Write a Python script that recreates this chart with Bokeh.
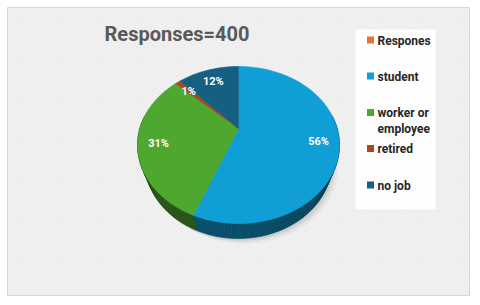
import numpy as np
from bokeh.plotting import figure
from bokeh.models import Range1d, BoxAnnotation
from bokeh.core.properties import value
from bokeh.embed import file_html
from bokeh.resources import INLINE

# ---------------- data ----------------
title_text = "Responses=400"
categories = ["student", "worker or employee", "retired", "no job"]
shares = [56, 31, 1, 12]
slice_labels = ["56%", "31%", "1%", "12%"]
slice_colors = ["#0F9ED5", "#4EA72E", "#A8491B", "#156082"]
legend_names = ["Respones", "student", "worker or", "retired", "no job"]
legend_second_line = ["", "", "employee", "", ""]
legend_colors = ["#E97132", "#0F9ED5", "#4EA72E", "#A8491B", "#156082"]

# ---------------- layout / style ----------------
W, H = 478, 303
FONT = "Roboto"
X0, X1, Y0, Y1 = 7, 469, 7, 295          # frame in window pixels
CX, CY = 238, 128                         # pie centre (window px)
K, D, TILT, DEPTH = 305.0, 3.09, np.radians(49.5), 0.32
LABEL_R = 0.8

def proj(theta, r=1.0, h=0.0):
    X = r * np.sin(theta)
    Z = r * np.cos(theta)
    c, s = np.cos(TILT), np.sin(TILT)
    yc = Z * s - h * c
    d = D + Z * c + h * s
    return CX + K * X / d, CY - K * yc / d

def shade(hex_color, f):
    h = hex_color.lstrip("#")
    rgb = [int(h[i:i + 2], 16) for i in (0, 2, 4)]
    return "#%02x%02x%02x" % tuple(int(max(0, min(255, v * f))) for v in rgb)

total = float(sum(shares))
bounds = np.concatenate([[0.0], np.cumsum(shares) / total * 2 * np.pi])

p = figure(width=W, height=H, output_backend="svg", toolbar_location=None,
           x_range=Range1d(X0, X1), y_range=Range1d(Y1, Y0),
           min_border_left=X0, min_border_top=Y0,
           min_border_right=W - X1, min_border_bottom=H - Y1,
           background_fill_color="#f5f5f5", border_fill_color="#ffffff")
p.axis.visible = False
p.grid.visible = False
p.outline_line_color = "#d6d6d6"
p.outline_line_width = 1

# hatched background
p.add_layout(BoxAnnotation(left=X0, right=X1, top=Y0, bottom=Y1,
                           fill_alpha=0, line_color=None,
                           hatch_pattern="/", hatch_color="#e6e6e6",
                           hatch_scale=5, hatch_weight=1, level="underlay"))

# soft shadow
full = np.linspace(0, 2 * np.pi, 200)
bx, by = proj(full, 1.0, DEPTH)
for dx, dy, a in [(6, 5, 0.04), (4, 3, 0.05), (2, 2, 0.06)]:
    p.patch(bx + dx, by + dy, fill_color="#000000", fill_alpha=a, line_color=None)

# side wall (front half), far pieces first
steps = np.linspace(np.radians(80), np.radians(280), 121)
quads = []
for a0, a1 in zip(steps[:-1], steps[1:]):
    mid = 0.5 * (a0 + a1)
    idx = int(np.searchsorted(bounds, mid, side="right") - 1)
    idx = min(max(idx, 0), len(shares) - 1)
    f = 0.38 + 0.12 * np.cos(mid - np.radians(205))
    xa, ya = proj(np.array([a0, a1, a1, a0]), 1.0, np.array([0, 0, DEPTH, DEPTH]))
    quads.append((abs(mid - np.pi), list(xa), list(ya), shade(slice_colors[idx], f)))
quads.sort(key=lambda q: -q[0])
p.patches([q[1] for q in quads], [q[2] for q in quads],
          fill_color=[q[3] for q in quads], line_color=[q[3] for q in quads],
          line_width=0.6)

# top face
xs, ys = [], []
for i in range(len(shares)):
    n = max(4, int(120 * shares[i] / total))
    t = np.linspace(bounds[i], bounds[i + 1], n)
    ax, ay = proj(t)
    xs.append([CX] + list(ax))
    ys.append([CY] + list(ay))
p.patches(xs, ys, fill_color=slice_colors, line_color=slice_colors, line_width=0.6)

# slice labels
mids = 0.5 * (bounds[:-1] + bounds[1:])
lx, ly = proj(mids, LABEL_R)
p.text(x=list(lx), y=list(ly + 1), text=slice_labels, text_color="white",
       text_font=value(FONT), text_font_style="bold", text_font_size="11px",
       text_align="center", text_baseline="middle")

# title
p.text(x=[176.5], y=[33], text=[title_text], text_color="#595959",
       text_font=value(FONT), text_font_style="bold", text_font_size="20px",
       text_align="center", text_baseline="middle")

# legend
p.quad(left=[355], right=[435], top=[29], bottom=[209],
       fill_color="white", fill_alpha=0.9, line_color=None)
leg_y = [39.5, 75.5, 112, 148, 184.5]
p.rect(x=[370] * len(leg_y), y=leg_y, width=7, height=7,
       fill_color=legend_colors, line_color=None)
p.text(x=[377] * len(leg_y), y=[v + 0.5 for v in leg_y], text=legend_names,
       text_color="#262626", text_font=value(FONT), text_font_style="bold",
       text_font_size="12px", text_align="left", text_baseline="middle")
sec_y = [v + 16 for v, s in zip(leg_y, legend_second_line) if s]
p.text(x=[377] * len(sec_y), y=[v + 0.5 for v in sec_y],
       text=[s for s in legend_second_line if s],
       text_color="#262626", text_font=value(FONT), text_font_style="bold",
       text_font_size="12px", text_align="left", text_baseline="middle")

open("out.html", "w").write(file_html(p, INLINE))
